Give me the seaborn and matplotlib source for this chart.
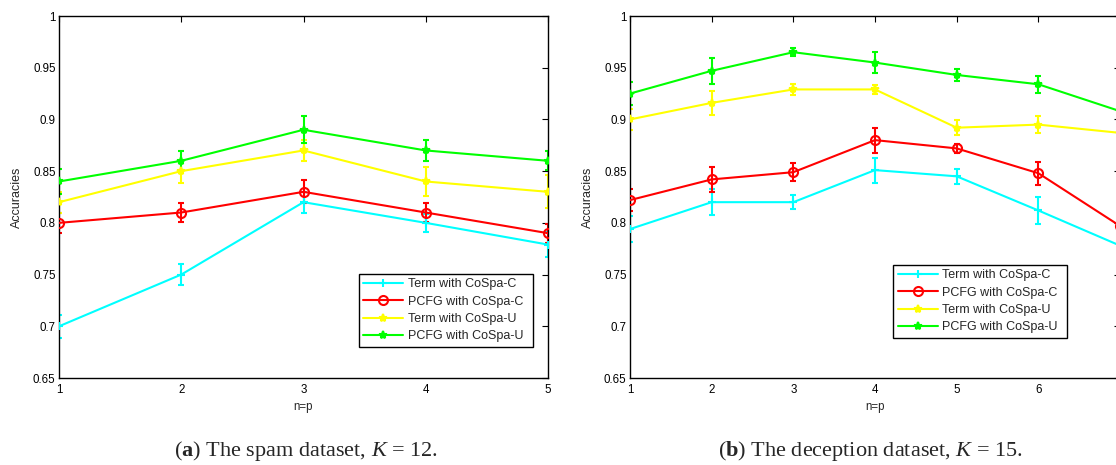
import numpy as np
import matplotlib
matplotlib.use("Agg")
import matplotlib.pyplot as plt
import seaborn as sns

# values (mean accuracy and half error bar)
series_names = ["Term with CoSpa-C", "PCFG with CoSpa-C", "Term with CoSpa-U", "PCFG with CoSpa-U"]
series_colors = ["#00ffff", "#ff0000", "#ffff00", "#00ff00"]
series_markers = ["+", "o", "*", "*"]

# (a) spam dataset, n=p from 1 to 5
spam_np = [1, 2, 3, 4, 5]
spam_term_c = [0.700, 0.750, 0.820, 0.800, 0.779]
spam_term_c_err = [0.011, 0.010, 0.010, 0.009, 0.012]
spam_pcfg_c = [0.800, 0.810, 0.830, 0.810, 0.790]
spam_pcfg_c_err = [0.010, 0.009, 0.011, 0.009, 0.009]
spam_term_u = [0.820, 0.850, 0.870, 0.840, 0.830]
spam_term_u_err = [0.010, 0.011, 0.010, 0.014, 0.016]
spam_pcfg_u = [0.840, 0.860, 0.890, 0.870, 0.860]
spam_pcfg_u_err = [0.012, 0.009, 0.013, 0.010, 0.009]

# (b) deception dataset, n=p from 1 to 7 (the last point is cut by the page edge)
dec_np = [1, 2, 3, 4, 5, 6, 7]
dec_term_c = [0.794, 0.820, 0.820, 0.851, 0.845, 0.812, 0.778]
dec_term_c_err = [0.0125, 0.0125, 0.007, 0.012, 0.007, 0.013, 0.010]
dec_pcfg_c = [0.822, 0.842, 0.849, 0.880, 0.872, 0.848, 0.797]
dec_pcfg_c_err = [0.011, 0.012, 0.009, 0.012, 0.004, 0.011, 0.010]
dec_term_u = [0.900, 0.916, 0.929, 0.929, 0.892, 0.895, 0.887]
dec_term_u_err = [0.010, 0.0115, 0.0055, 0.004, 0.007, 0.008, 0.008]
dec_pcfg_u = [0.925, 0.947, 0.965, 0.955, 0.943, 0.934, 0.908]
dec_pcfg_u_err = [0.011, 0.0125, 0.004, 0.0105, 0.006, 0.008, 0.008]

# tick labels visible in the picture (the 7 of panel b falls off the page)
spam_x_ticks = [1, 2, 3, 4, 5]
dec_x_ticks = [1, 2, 3, 4, 5, 6]
y_ticks = [0.65, 0.7, 0.75, 0.8, 0.85, 0.9, 0.95, 1]
y_tick_labels = ["0.65", "0.7", "0.75", "0.8", "0.85", "0.9", "0.95", "1"]

sns.set_theme(style="white")
plt.rcParams['font.family'] = ['Liberation Sans', 'DejaVu Sans']
plt.rcParams['mathtext.fontset'] = 'custom'
plt.rcParams['mathtext.rm'] = 'Liberation Serif'
plt.rcParams['mathtext.it'] = 'Liberation Serif:italic'
plt.rcParams['mathtext.bf'] = 'Liberation Serif:bold'

fig = plt.figure(figsize=(11.16, 4.65), dpi=100)
ax1 = fig.add_axes([59 / 1116, 87 / 465, 489 / 1116, 362 / 465])
ax2 = fig.add_axes([630 / 1116, 87 / 465, 490 / 1116, 362 / 465])


def draw_panel(ax, xs, means, errs, xmax, xticks, legend_box):
    for name, col, mk, y, e in zip(series_names, series_colors, series_markers, means, errs):
        ax.errorbar(xs, y, yerr=e, fmt="none", ecolor=col, elinewidth=1.5,
                    capsize=2.5, capthick=1.5, zorder=2)
        ms = 6.5 if mk == "o" else 6
        sns.lineplot(x=xs, y=y, ax=ax, color=col, marker=mk, markersize=ms,
                     markerfacecolor="none" if mk == "o" else col,
                     markeredgecolor=col, markeredgewidth=1.5, linewidth=1.5,
                     label=name, zorder=3)
    ax.set_xlim(1, xmax)
    ax.set_ylim(0.65, 1)
    ax.set_xticks(xticks)
    ax.set_yticks(y_ticks)
    ax.set_yticklabels(y_tick_labels)
    ax.tick_params(direction="in", top=True, right=True, length=4, width=0.8,
                   labelsize=8.3, colors="black", pad=2.5)
    ax.tick_params(axis="x", pad=4.5)
    for sp in ax.spines.values():
        sp.set_visible(True)
        sp.set_color("black")
        sp.set_linewidth(1.0)
    ax.set_xlabel("n=p", fontsize=8.3)
    ax.set_ylabel("Accuracies", fontsize=9)
    ax.xaxis.set_label_coords(0.5, -0.064)
    ax.yaxis.set_label_coords(-0.074, 0.5)
    leg = ax.legend(loc="upper left", bbox_to_anchor=legend_box, mode="expand",
                    fontsize=9, frameon=True, fancybox=False, framealpha=1,
                    edgecolor="black", handlelength=3.2, handletextpad=0.35,
                    labelspacing=0.42, borderpad=0.35, numpoints=1, borderaxespad=0)
    leg.get_frame().set_linewidth(1.0)


draw_panel(ax1, spam_np,
           [spam_term_c, spam_pcfg_c, spam_term_u, spam_pcfg_u],
           [spam_term_c_err, spam_pcfg_c_err, spam_term_u_err, spam_pcfg_u_err],
           5, spam_x_ticks, (0.613, 0.077, 0.356, 0.21))
draw_panel(ax2, dec_np,
           [dec_term_c, dec_pcfg_c, dec_term_u, dec_pcfg_u],
           [dec_term_c_err, dec_pcfg_c_err, dec_term_u_err, dec_pcfg_u_err],
           7, dec_x_ticks, (0.537, 0.097, 0.355, 0.215))

fig.text(306 / 1116, 9 / 465, r"($\mathbf{a}$) The spam dataset, $K$ = 12.",
         ha="center", va="baseline", fontsize=16, family="Liberation Serif")
fig.text(870 / 1116, 9 / 465, r"($\mathbf{b}$) The deception dataset, $K$ = 15.",
         ha="center", va="baseline", fontsize=16, family="Liberation Serif")

fig.savefig("out.png", dpi=100)
